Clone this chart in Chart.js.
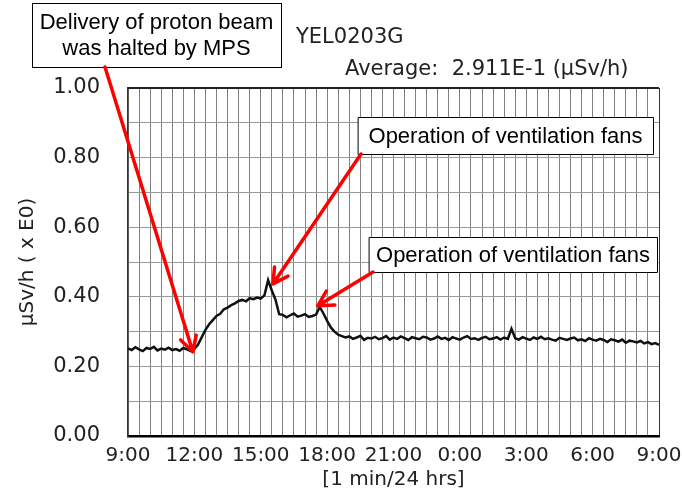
<!DOCTYPE html>
<html><head><meta charset="utf-8">
<script src="https://cdn.jsdelivr.net/npm/chart.js@4.4.0/dist/chart.umd.min.js"></script>
<style>html,body{margin:0;padding:0;background:#fff}#wrap{width:682px;height:493px;position:relative}</style>
</head><body><div id="wrap"><canvas id="c"></canvas></div>
<script>
// ---- data (10-minute samples, 9:00 -> 9:00 next day) ----
const sampleStepHours = 1 / 6;
const doseRate = [
  0.252,0.247,0.255,0.249,0.244,0.253,
  0.250,0.256,0.246,0.251,0.248,0.254,
  0.247,0.250,0.245,0.253,0.249,0.244,
  0.250,0.263,0.284,0.305,0.321,0.333,
  0.345,0.351,0.364,0.369,0.376,0.381,
  0.388,0.391,0.387,0.396,0.393,0.398,
  0.395,0.404,0.448,0.418,0.392,0.350,
  0.348,0.341,0.347,0.352,0.343,0.346,
  0.350,0.342,0.345,0.349,0.371,0.352,
  0.331,0.312,0.300,0.291,0.287,0.283,
  0.286,0.279,0.283,0.288,0.276,0.282,
  0.280,0.285,0.278,0.281,0.287,0.277,
  0.283,0.279,0.286,0.281,0.276,0.284,
  0.281,0.278,0.285,0.283,0.277,0.280,
  0.286,0.279,0.282,0.276,0.284,0.280,
  0.277,0.283,0.287,0.279,0.281,0.276,
  0.282,0.285,0.278,0.280,0.284,0.277,
  0.283,0.279,0.308,0.281,0.277,0.284,
  0.280,0.276,0.283,0.279,0.285,0.278,
  0.281,0.277,0.274,0.282,0.279,0.276,
  0.280,0.283,0.275,0.278,0.273,0.281,
  0.277,0.274,0.279,0.276,0.270,0.278,
  0.275,0.271,0.277,0.268,0.274,0.272,
  0.269,0.273,0.266,0.270,0.264,0.267,
  0.262
];
const xTickLabels = ['9:00','12:00','15:00','18:00','21:00','0:00','3:00','6:00','9:00'];
const chartTitle = 'YEL0203G';
const averageText = 'Average:  2.911E-1 (\u00b5Sv/h)';
const yAxisTitle = '\u00b5Sv/h ( x E0)';
const xAxisTitle = '[1 min/24 hrs]';
// callouts: text + arrow tip in data coordinates (hours from 9:00, value)
const calloutTexts = [
  ['Delivery of proton beam','was halted by MPS'],
  ['Operation of ventilation fans'],
  ['Operation of ventilation fans']
];
const calloutTipHours = [2.93, 6.55, 8.58];
const calloutTipValues = [0.242, 0.437, 0.374];

// ---- layout of callout boxes (pixels) ----
const calloutBoxes = [
  {x:32, y:3, w:249, h:64, fromX:105, fromY:67},
  {x:358, y:117, w:295, h:37, fromX:361, fromY:154},
  {x:369, y:237, w:288, h:35, fromX:373, fromY:272}
];

const points = doseRate.map((v, i) => ({x: i * sampleStepHours, y: v}));
const FONT = '"DejaVu Sans", sans-serif';
const BOXFONT = '"Liberation Sans", Arial, sans-serif';

function drawArrow(ctx, x0, y0, x1, y1) {
  const ang = Math.atan2(y1 - y0, x1 - x0);
  const L = 17, a = 0.5;
  ctx.beginPath();
  ctx.moveTo(x0, y0); ctx.lineTo(x1, y1);
  ctx.moveTo(x1 - L * Math.cos(ang - a), y1 - L * Math.sin(ang - a));
  ctx.lineTo(x1, y1);
  ctx.lineTo(x1 - L * Math.cos(ang + a), y1 - L * Math.sin(ang + a));
  ctx.stroke();
}

const overlay = {
  id: 'overlay',
  afterDatasetsDraw(chart) {
    const {ctx, scales: {x, y}, chartArea: ca} = chart;
    ctx.save();
    ctx.strokeStyle = '#222'; ctx.lineWidth = 2;
    ctx.beginPath(); ctx.moveTo(ca.left, ca.top); ctx.lineTo(ca.right, ca.top); ctx.stroke();
    ctx.fillStyle = '#222';
    ctx.font = '21px ' + FONT;
    ctx.textAlign = 'left'; ctx.textBaseline = 'middle';
    ctx.fillText(chartTitle, 296, 38);
    ctx.fillText(averageText, 345, 70);
    calloutBoxes.forEach((b, i) => {
      ctx.fillStyle = '#fff';
      ctx.fillRect(b.x, b.y, b.w, b.h);
      ctx.strokeStyle = '#000'; ctx.lineWidth = 1;
      ctx.strokeRect(b.x + 0.5, b.y + 0.5, b.w, b.h);
      ctx.fillStyle = '#000';
      ctx.font = '22px ' + BOXFONT;
      ctx.textAlign = 'center'; ctx.textBaseline = 'middle';
      const lines = calloutTexts[i];
      const lh = 26;
      const cy = b.y + b.h / 2 - (lines.length - 1) * lh / 2 + 1;
      lines.forEach((t, k) => ctx.fillText(t, b.x + b.w / 2, cy + k * lh));
      ctx.strokeStyle = '#ff0000'; ctx.lineWidth = 3.5; ctx.lineCap = 'round'; ctx.lineJoin = 'round';
      drawArrow(ctx, b.fromX, b.fromY, x.getPixelForValue(calloutTipHours[i]), y.getPixelForValue(calloutTipValues[i]));
    });
    ctx.restore();
  }
};

new Chart(document.getElementById('c'), {
  type: 'line',
  data: { datasets: [{
    data: points, borderColor: '#111', borderWidth: 2.5, pointRadius: 0, tension: 0, fill: false
  }]},
  options: {
    responsive: true, maintainAspectRatio: false, animation: false,
    layout: { padding: { top: 88, right: 23, bottom: 0, left: 0 } },
    plugins: { legend: { display: false }, tooltip: { enabled: false } },
    scales: {
      x: {
        type: 'linear', min: 0, max: 24,
        afterFit(s) { s.height = 57; s.paddingLeft = 0; s.paddingRight = 0; },
        grid: { drawTicks: false, color: c => (c.tick && c.tick.value === 24) ? '#333' : '#808080', lineWidth: 1 },
        border: { display: true, color: '#000', width: 2.5 },
        ticks: {
          stepSize: 0.5, autoSkip: false, maxRotation: 0, padding: 8, color: '#222',
          font: { family: FONT, size: 20 },
          callback: v => (Math.abs(v % 3) < 1e-9) ? xTickLabels[Math.round(v / 3)] : ''
        },
        title: { display: true, text: xAxisTitle, color: '#222', font: { family: FONT, size: 20 }, padding: { top: 0, bottom: 1 } }
      },
      y: {
        min: 0, max: 1,
        afterFit(s) { s.width = 128; },
        grid: { drawTicks: false, color: c => (c.tick && Math.abs(c.tick.value - 1) < 1e-9) ? '#222' : '#999999', lineWidth: 1 },
        border: { display: true, color: '#333', width: 1.5 },
        ticks: {
          stepSize: 0.1, autoSkip: false, padding: 28, color: '#222',
          font: { family: FONT, size: 21 },
          callback: v => (Math.round(v * 10) % 2 === 0) ? v.toFixed(2) : ''
        },
        title: { display: true, text: yAxisTitle, color: '#222', font: { family: FONT, size: 20 }, padding: { top: 16, bottom: 0 } }
      }
    }
  },
  plugins: [overlay]
});
</script>
</body></html>
